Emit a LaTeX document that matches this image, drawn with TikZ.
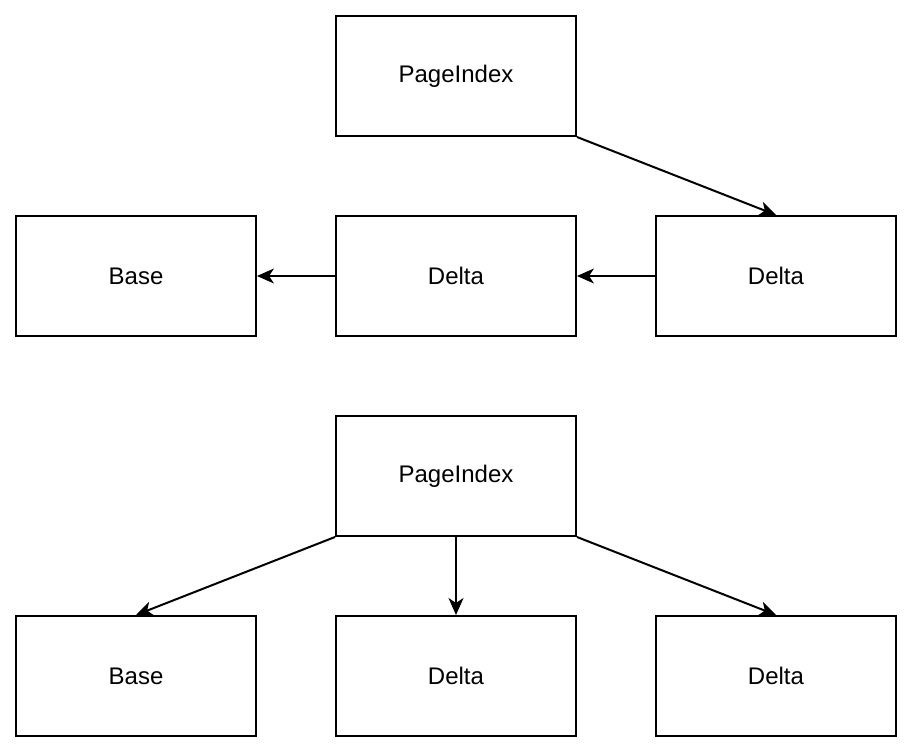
\documentclass[tikz,border=0pt]{standalone}
\usepackage{fontspec}
\setmainfont{Liberation Sans}
\usetikzlibrary{arrows.meta}
\definecolor{dline}{HTML}{000000}
\definecolor{dtext}{HTML}{000000}
\newcommand{\dfont}{\fontsize{24}{29}\selectfont}

\begin{document}
\begin{tikzpicture}[x=1pt,y=-1pt,font=\dfont,
  pbox/.style={draw=dline,line width=2pt,text=dtext,minimum width=240pt,minimum height=120pt,inner sep=0},
  parrow/.style={dline,line width=2pt,-{Stealth[length=17pt,width=15pt,inset=5pt]}}]
\useasboundingbox (0,0) rectangle (914,754);
% upper chain
\node[pbox] (pageA) at (456,76) {PageIndex};
\node[pbox] (baseA) at (136,276) {Base};
\node[pbox] (deltaA1) at (456,276) {Delta};
\node[pbox] (deltaA2) at (776,276) {Delta};
\draw[parrow] (pageA.south east) -- (deltaA2.north);
\draw[parrow] (deltaA2.west) -- (deltaA1.east);
\draw[parrow] (deltaA1.west) -- (baseA.east);
% lower fan-out
\node[pbox] (pageB) at (456,476) {PageIndex};
\node[pbox] (baseB) at (136,676) {Base};
\node[pbox] (deltaB1) at (456,676) {Delta};
\node[pbox] (deltaB2) at (776,676) {Delta};
\draw[parrow] (pageB.south west) -- (baseB.north);
\draw[parrow] (pageB.south) -- (deltaB1.north);
\draw[parrow] (pageB.south east) -- (deltaB2.north);
\end{tikzpicture}
\end{document}
